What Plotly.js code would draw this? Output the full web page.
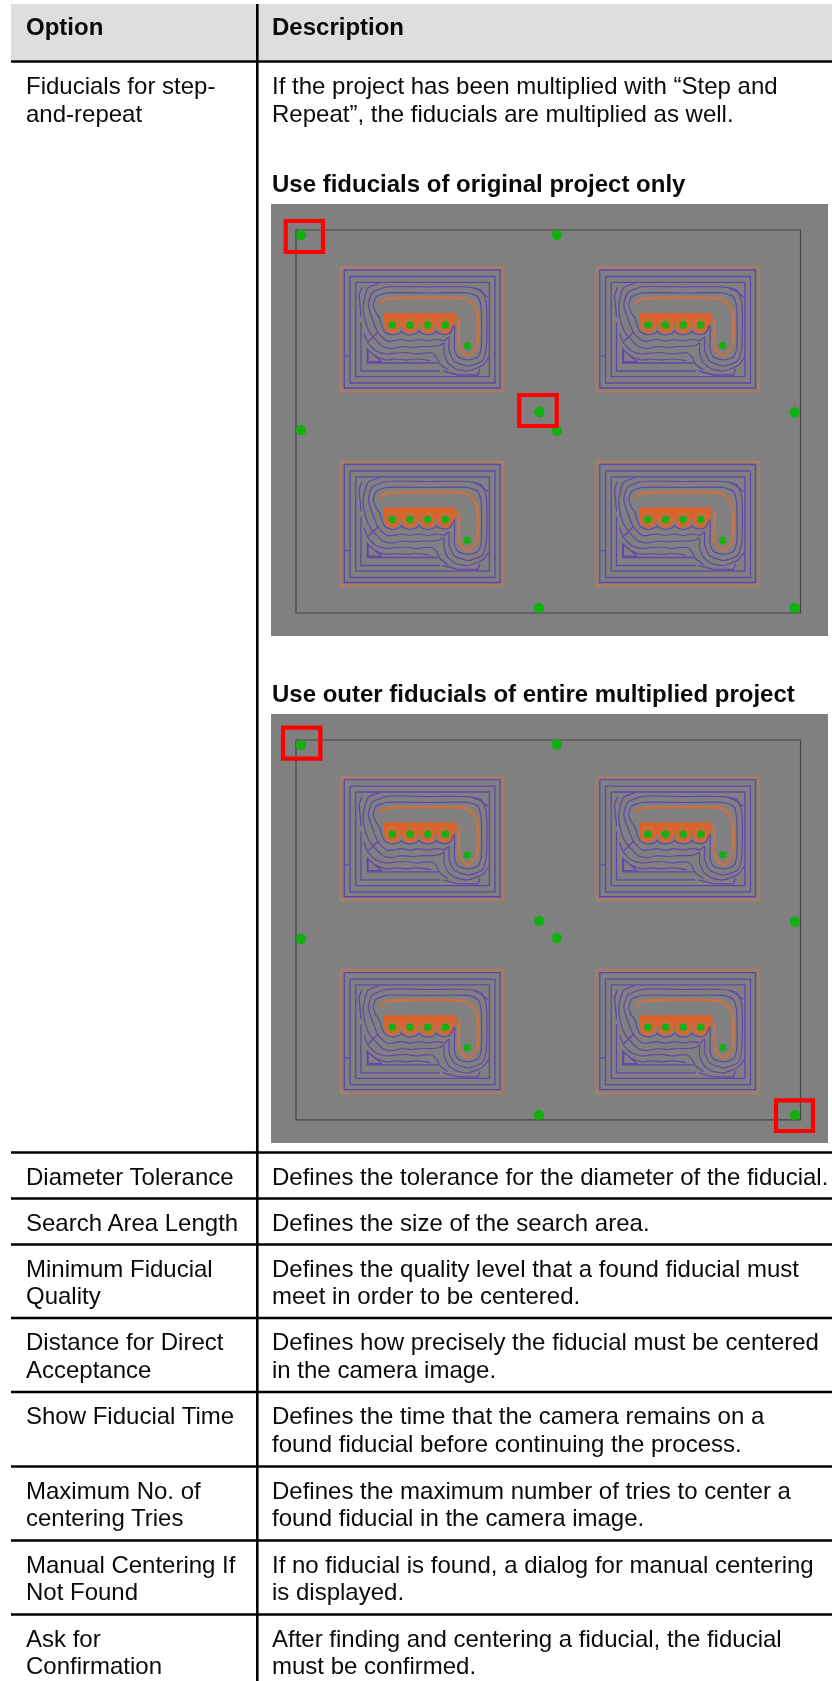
<!DOCTYPE html>
<html><head><meta charset="utf-8">
<script src="https://cdn.plot.ly/plotly-3.0.1.min.js"></script>
<style>html,body{margin:0;padding:0;background:#fff}#c{width:832px;height:1681px}
#c .scatterlayer{filter:blur(.4px)}</style>
</head><body><div id="c"></div>
<script>
// ---- table text ----
const headers = ["Option", "Description"];
const firstOption = ["Fiducials for step-", "and-repeat"];
const firstDescription = ["If the project has been multiplied with “Step and", "Repeat”, the fiducials are multiplied as well."];
const subHeadA = "Use fiducials of original project only";
const subHeadB = "Use outer fiducials of entire multiplied project";
const rowOptions = [
  ["Diameter Tolerance"], ["Search Area Length"], ["Minimum Fiducial", "Quality"],
  ["Distance for Direct", "Acceptance"], ["Show Fiducial Time"], ["Maximum No. of", "centering Tries"],
  ["Manual Centering If", "Not Found"], ["Ask for", "Confirmation"]
];
const rowDescriptions = [
  ["Defines the tolerance for the diameter of the fiducial."],
  ["Defines the size of the search area."],
  ["Defines the quality level that a found fiducial must", "meet in order to be centered."],
  ["Defines how precisely the fiducial must be centered", "in the camera image."],
  ["Defines the time that the camera remains on a", "found fiducial before continuing the process."],
  ["Defines the maximum number of tries to center a", "found fiducial in the camera image."],
  ["If no fiducial is found, a dialog for manual centering", "is displayed."],
  ["After finding and centering a fiducial, the fiducial", "must be confirmed."]
];
const rowTops = [1152.5, 1198.5, 1244.5, 1318, 1392, 1466.5, 1540.5, 1614.5];

// ---- fiducials in the two screenshots ----
const fidAX = [301, 556.7, 301, 556.7, 539.3, 794.6, 539, 794.6];
const fidAY = [235, 235, 430, 430.5, 412, 412.5, 608, 608];
const fidBX = [301, 556.7, 301, 556.7, 539.3, 795, 539, 795];
const fidBY = [745, 744.5, 938.7, 938, 921, 921.7, 1115, 1115];

// ---- board artwork, local coordinates of one board ----
const outlineX = [1, 163, 163, 1, 1];
const outlineY = [2.5, 2.5, 126, 126, 2.5];
const ring1X = [4.3, 160, 160, 4.3, 4.3];
const ring1Y = [5, 5, 123, 123, 5];
const ring2X = [10, 155, 155, 10, 10];
const ring2Y = [11.5, 11.5, 118, 118, 11.5];
const ring3X = [15.7, 149.3, 149.3, 15.7, 15.7];
const ring3Y = [17.4, 17.4, 111.7, 111.7, 17.4];
const ring4X = [21, 21, 100];
const ring4Y = [57, 106, 106];
const innerBoxX = [27.3, 27.3, 98];
const innerBoxY = [83, 98, 98];
const triX = [28, 28, 41.7, 28];
const triY = [85, 96.7, 96.7, 85];
const diagX = [28, 38];
const diagY = [77, 67];
const tickX = [5, 10];
const tickY = [91, 91];
const stubX = [22, 19, 20, 21];
const stubY = [22, 30, 40, 52];
const squigX = [133, 140, 148];
const squigY = [23, 26, 32];
const botBoxX = [103, 110, 118, 138, 140];
const botBoxY = [106, 108, 110, 110, 104];

const trackAX = [46, 90, 128, 138, 141, 141, 138, 128, 118, 114.5, 114.5, 110, 104.5, 98, 96.5, 95, 88, 81, 79, 77, 70, 63, 61.5, 60, 52.5, 45, 41.5, 40, 35.5, 33.3, 36, 46];
const trackAY = [28, 28, 28, 32, 42, 84, 92, 95, 92, 84, 60, 68, 69.5, 68, 66, 68, 70, 68, 66, 68, 70, 68, 66, 68, 70, 67, 60, 54, 47, 40, 32, 28];
const trackBX = [46, 90, 128, 141, 146, 146, 142, 128, 114, 109, 109, 105, 96, 88, 79, 70, 61, 52, 46.7, 38.3, 31.7, 28.3, 32, 46];
const trackBY = [22, 22, 22, 25, 36, 85, 96, 101, 96, 85, 72, 75.5, 74.5, 76, 74.5, 76, 74.5, 76, 76, 68, 52, 40, 28, 22];
const trackCX = [40, 28, 23.3, 25, 30, 43, 52, 62, 72, 82, 92, 100, 104, 104, 108, 116, 128, 143, 149];
const trackCY = [18, 23, 40, 55, 68, 81.7, 83.5, 81.5, 82.5, 81.5, 81.5, 80.5, 78, 88, 98, 104, 106, 100, 92];
const trackDX = [24, 28, 36, 46, 56, 66, 76, 86, 92, 97, 100, 108];
const trackDY = [68, 78, 86, 89, 88, 87.5, 89, 88, 88, 93, 99, 105];
const trackEX = [35, 46, 56, 66, 76, 86, 91];
const trackEY = [91, 95, 94, 95, 94, 95, 96];

const copperX = [44, 116, 116, 44, 44];
const copperY = [48.3, 48.3, 60, 60, 48.3];
const bandX = [40, 45, 126.7, 136.7, 136.7, 127.3, 119.3, 119.3];
const bandY = [37.7, 34.3, 34.3, 45, 82.3, 91, 82.3, 51.7];
const padX = [52.3, 70, 87.7, 105.3];
const padY = [60, 60, 60, 60];
const viaX = [127.3];
const viaY = [80.7];

const boardCols = [0, 255.5];
const boardRows = [0, 194.5];

// ---- sheet geometry ----
const W = 832, H = 1681;
const boardOrigin = [340, 265];
const shots = [
  {top: 204, bottom: 636, yAt: y => y},
  {top: 714, bottom: 1143, yAt: y => 740 + (y - 230) * 0.992}
];
const shotLeft = 271, shotRight = 828;
const frameL = 296, frameR = 800.5, frameT = 230, frameB = 613;
const redBoxes = [
  [285.7, 221, 323, 252], [519.3, 395, 556.7, 426],
  [283, 727.7, 320.3, 758.7], [776, 1100.3, 813, 1131]
];

function collect(polys) {
  const xs = [], ys = [];
  shots.forEach(s => boardRows.forEach(r => boardCols.forEach(c => {
    polys.forEach(([px, py]) => {
      px.forEach((v, i) => {
        xs.push(boardOrigin[0] + c + v);
        ys.push(s.yAt(boardOrigin[1] + r + py[i]));
      });
      xs.push(null); ys.push(null);
    });
  })));
  return {x: xs, y: ys};
}
function collectPts(px, py) {
  const t = collect([[px, py]]);
  return {x: t.x.filter(v => v !== null), y: t.y.filter(v => v !== null)};
}

const purple = '#6146ab';
const traces = [
  Object.assign(collect([[outlineX, outlineY]]), {mode: 'lines', line: {color: '#a67c68', width: 3}}),
  Object.assign(collect([[copperX, copperY]]), {mode: 'lines', fill: 'toself', fillcolor: '#dc602c', line: {color: '#dc602c', width: 0.5}}),
  Object.assign(collectPts(padX, padY), {mode: 'markers', marker: {size: 17, color: '#cc6a38'}}),
  Object.assign(collect([[bandX, bandY]]), {mode: 'lines', line: {color: '#c07348', width: 2.8, shape: 'spline', smoothing: 0.5}}),
  Object.assign(collect([[ring1X, ring1Y], [ring2X, ring2Y], [ring3X, ring3Y], [ring4X, ring4Y], [innerBoxX, innerBoxY],
    [triX, triY], [diagX, diagY], [tickX, tickY], [stubX, stubY], [squigX, squigY], [botBoxX, botBoxY]]),
    {mode: 'lines', line: {color: purple, width: 1.3}}),
  Object.assign(collect([[trackAX, trackAY], [trackBX, trackBY], [trackCX, trackCY], [trackDX, trackDY], [trackEX, trackEY]]),
    {mode: 'lines', line: {color: purple, width: 1.2, shape: 'spline', smoothing: 0.6}}),
  Object.assign(collectPts(padX, padY), {mode: 'markers', marker: {size: 7.5, color: '#14b014'}}),
  Object.assign(collectPts(viaX, viaY), {mode: 'markers', marker: {size: 7.5, color: '#14b014'}}),
  {x: fidAX, y: fidAY, mode: 'markers', marker: {size: 10.5, color: '#0fb00f'}},
  {x: fidBX, y: fidBY, mode: 'markers', marker: {size: 10.5, color: '#0fb00f'}}
];
traces.forEach(t => { t.type = 'scatter'; t.hoverinfo = 'skip'; t.showlegend = false; });

const shapes = [];
const rect = (x0, y0, x1, y1, o) => shapes.push(Object.assign({type: 'rect', xref: 'x', yref: 'y', x0, y0, x1, y1}, o));
rect(11, 4, W, 60, {fillcolor: '#dedede', line: {width: 0}, layer: 'below'});
shots.forEach(s => {
  rect(shotLeft, s.top, shotRight, s.bottom, {fillcolor: '#808080', line: {width: 0}, layer: 'below'});
  rect(frameL, s.yAt(frameT), frameR, s.yAt(frameB), {fillcolor: 'rgba(0,0,0,0)', line: {color: '#454545', width: 1.2}, layer: 'below'});
});
const hline = y => shapes.push({type: 'line', xref: 'x', yref: 'y', x0: 11, x1: W, y0: y, y1: y, line: {color: '#000', width: 2.6}, layer: 'above'});
hline(61.5);
rowTops.forEach(hline);
shapes.push({type: 'line', xref: 'x', yref: 'y', x0: 257.3, x1: 257.3, y0: 4, y1: H, line: {color: '#000', width: 2.6}, layer: 'above'});
redBoxes.forEach(b => rect(b[0], b[1], b[2], b[3], {fillcolor: 'rgba(0,0,0,0)', line: {color: '#fe0000', width: 4.2}, layer: 'above'}));

const annotations = [];
const FS = 24;
const text = (x, y, t, bold) => annotations.push({
  xref: 'x', yref: 'y', x, y, text: bold ? '<b>' + t + '</b>' : t, showarrow: false,
  xanchor: 'left', yanchor: 'middle', align: 'left', borderpad: 0,
  font: {family: '"Liberation Sans", Arial, sans-serif', size: FS, color: '#0a0a0a'}
});
text(25, 26, headers[0], true);
text(271, 26, headers[1], true);
firstOption.forEach((t, i) => text(25, 85 + 28 * i, t));
firstDescription.forEach((t, i) => text(271, 85 + 28 * i, t));
text(271, 183, subHeadA, true);
text(271, 693, subHeadB, true);
rowTops.forEach((top, r) => {
  rowOptions[r].forEach((t, i) => text(25, top + 23.5 + 27.8 * i, t));
  rowDescriptions[r].forEach((t, i) => text(271, top + 23.5 + 27.8 * i, t));
});

const layout = {
  width: W, height: H, margin: {l: 0, r: 0, t: 0, b: 0}, autosize: false,
  paper_bgcolor: '#fff', plot_bgcolor: '#fff', showlegend: false,
  xaxis: {range: [0, W], visible: false, fixedrange: true},
  yaxis: {range: [H, 0], visible: false, fixedrange: true},
  shapes, annotations
};
Plotly.newPlot('c', traces, layout, {staticPlot: true, displayModeBar: false});
</script></body></html>
